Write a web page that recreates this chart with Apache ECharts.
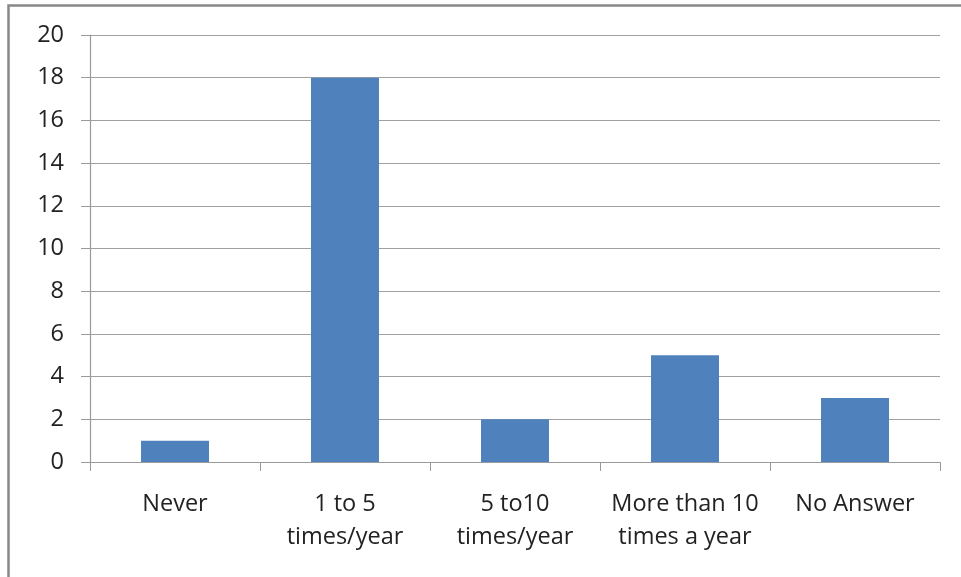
<!DOCTYPE html>
<html><head><meta charset="utf-8">
<script src="https://cdn.jsdelivr.net/npm/echarts@6/dist/echarts.min.js"></script>
<style>html,body{margin:0;padding:0;background:#fff}#c{width:961px;height:577px}</style>
</head><body><div id="c"></div>
<script>
const categories = ["Never", "1 to 5\ntimes/year", "5 to10\ntimes/year", "More than 10\ntimes a year", "No Answer"];
const values = [1, 18, 2, 5, 3];
const yTicks = { min: 0, max: 20, interval: 2 };

const chart = echarts.init(document.getElementById('c'), null, { renderer: 'canvas' });
const font = '"Open Sans", Lato, "Liberation Sans", sans-serif';
chart.setOption({
  animation: false,
  backgroundColor: '#fff',
  graphic: [{
    type: 'rect', shape: { x: 8.5, y: 5.5, width: 1000, height: 1000 },
    style: { fill: 'none', stroke: '#888', lineWidth: 2.5 }, silent: true
  }],
  grid: { left: 90, right: 21, top: 35, bottom: 115 },
  xAxis: {
    type: 'category', data: categories,
    axisLine: { lineStyle: { color: '#9a9a9a', width: 1.2 } },
    axisTick: { show: true, length: 9, alignWithLabel: false, lineStyle: { color: '#9a9a9a' } },
    axisLabel: { color: '#222', fontSize: 23.5, fontFamily: font, margin: 26, lineHeight: 33, interval: 0 }
  },
  yAxis: {
    type: 'value', min: yTicks.min, max: yTicks.max, interval: yTicks.interval,
    axisLine: { show: true, lineStyle: { color: '#9a9a9a', width: 1.2 } },
    axisTick: { show: true, length: 9, lineStyle: { color: '#9a9a9a' } },
    splitLine: { lineStyle: { color: '#a0a0a0', width: 1.2 } },
    axisLabel: { color: '#222', fontSize: 23.5, fontFamily: font, margin: 26 }
  },
  series: [{
    type: 'bar', data: values, barWidth: '40%',
    itemStyle: { color: '#4F81BD' }
  }]
});
</script></body></html>
